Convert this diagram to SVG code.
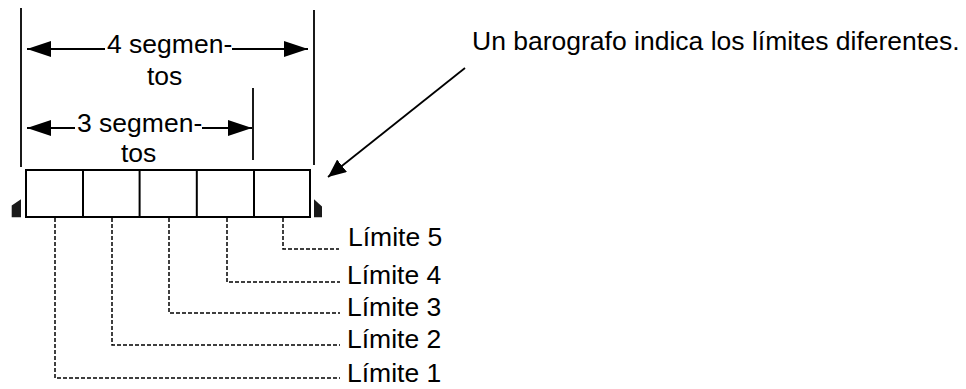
<svg xmlns="http://www.w3.org/2000/svg" width="966" height="389" viewBox="0 0 966 389">
<style>
text{font-family:"Liberation Sans",Arial,sans-serif;font-size:26.5px;fill:#000}
.ln{stroke:#000;stroke-width:1.8;fill:none}
.bx{stroke:#000;stroke-width:2;fill:#fff}
.dash{stroke:#000;stroke-width:1.5;fill:none;stroke-dasharray:4 2}
.mk{fill:#1a1a1a}
</style>
<defs>
<marker id="ah" markerUnits="userSpaceOnUse" markerWidth="24" markerHeight="16" refX="24" refY="8" orient="auto-start-reverse" viewBox="0 0 24 16">
<path d="M0,0 L24,8 L0,16 z" fill="#000"/>
</marker>
<marker id="ah2" markerUnits="userSpaceOnUse" markerWidth="18" markerHeight="16" refX="18" refY="8" orient="auto" viewBox="0 0 18 16">
<path d="M0,0 L18,8 L0,16 z" fill="#000"/>
</marker>
</defs>
<g id="extension-lines">
<line class="ln" x1="21" y1="8" x2="21" y2="167"/>
<line class="ln" x1="314" y1="10" x2="314" y2="165"/>
<line class="ln" x1="253" y1="88" x2="253" y2="160"/>
</g>
<g id="dim-4">
<line class="ln" x1="105" y1="49" x2="27" y2="49" marker-end="url(#ah)"/>
<line class="ln" x1="232" y1="49" x2="308" y2="49" marker-end="url(#ah)"/>
<text x="107" y="53">4 segmen-</text>
<text x="147" y="85">tos</text>
</g>
<g id="dim-3">
<line class="ln" x1="75" y1="128" x2="27" y2="128" marker-end="url(#ah)"/>
<line class="ln" x1="202" y1="128" x2="252" y2="128" marker-end="url(#ah)"/>
<text x="77" y="132">3 segmen-</text>
<text x="121" y="162">tos</text>
</g>
<g id="barograph">
<rect class="bx" x="26" y="170" width="284" height="47"/>
<line class="bx" x1="83" y1="170" x2="83" y2="217"/>
<line class="bx" x1="139.6" y1="170" x2="139.6" y2="217"/>
<line class="bx" x1="196.8" y1="170" x2="196.8" y2="217"/>
<line class="bx" x1="254" y1="170" x2="254" y2="217"/>
<polygon class="mk" points="11.7,205.5 21,199.3 21,217.3 11.7,217.3"/>
<polygon class="mk" points="314,199.3 322,206.5 322,217.3 314,217.3"/>
</g>
<g id="callout">
<text x="472" y="50">Un barografo indica los límites diferentes.</text>
</g>
<g id="limit-labels">
<text x="348" y="246">Límite 5</text>
<text x="347" y="284">Límite 4</text>
<text x="347" y="316">Límite 3</text>
<text x="347" y="348">Límite 2</text>
<text x="347" y="382">Límite 1</text>
</g>
<g id="connectors">
<line class="ln" x1="465" y1="68" x2="328" y2="177" marker-end="url(#ah2)"/>
<polyline class="dash" points="283,218 283,249 339,249"/>
<polyline class="dash" points="227,218 227,282 340,282"/>
<polyline class="dash" points="169,218 169,313 340,313"/>
<polyline class="dash" points="112,218 112,345 340,345"/>
<polyline class="dash" points="55,218 55,378 340,378"/>
</g>
</svg>
